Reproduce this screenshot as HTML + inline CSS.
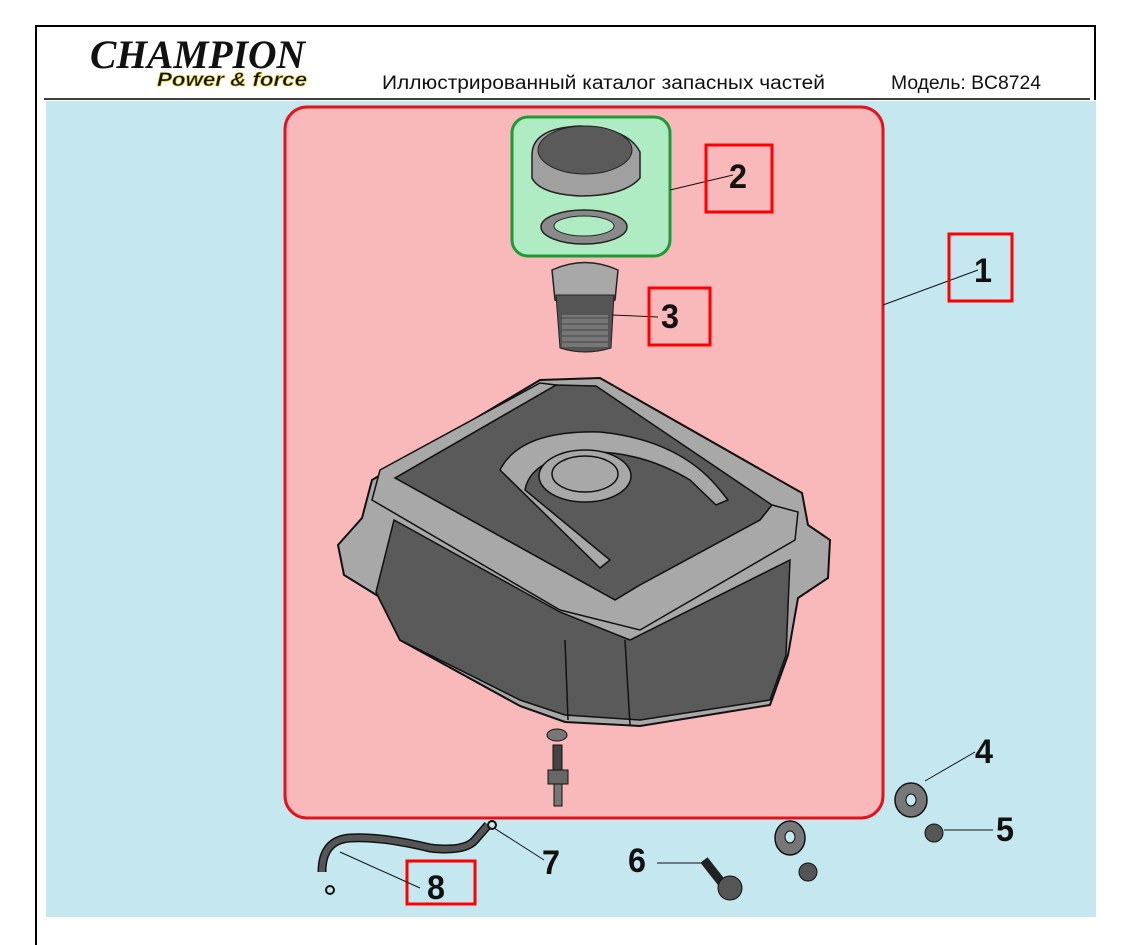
<!DOCTYPE html>
<html><head><meta charset="utf-8"><style>
html,body{margin:0;padding:0;background:#fff;}
svg{display:block;}
</style></head><body>
<svg width="1125" height="945" viewBox="0 0 1125 945" xmlns="http://www.w3.org/2000/svg" font-family="Liberation Sans, sans-serif">
<rect x="0" y="0" width="1125" height="945" fill="#fff"/>
<line x1="36" y1="26" x2="1096" y2="26" stroke="#000" stroke-width="2"/>
<line x1="36" y1="25" x2="36" y2="945" stroke="#000" stroke-width="2"/>
<line x1="1095" y1="25" x2="1095" y2="100" stroke="#000" stroke-width="2"/>
<text x="90" y="68" font-family="Liberation Serif, serif" font-weight="bold" font-style="italic" font-size="40" fill="#111" textLength="215" lengthAdjust="spacingAndGlyphs">CHAMPION</text>
<text x="157" y="86" font-weight="bold" font-style="italic" font-size="19" fill="#111" stroke="#d8c300" stroke-width="0.6" textLength="150" lengthAdjust="spacingAndGlyphs">Power &amp; force</text>
<text x="382" y="89" font-size="19" fill="#111" textLength="443" lengthAdjust="spacingAndGlyphs">Иллюстрированный каталог запасных частей</text>
<text x="891" y="89" font-size="19" fill="#111" textLength="150" lengthAdjust="spacingAndGlyphs">Модель: BC8724</text>
<line x1="44" y1="99" x2="1090" y2="99" stroke="#000" stroke-width="1.5"/>
<rect x="46" y="101" width="1050" height="816" fill="#c5e8f0"/>
<rect x="285" y="107" width="598" height="711" rx="22" fill="#f9b8ba" stroke="#e0141c" stroke-width="3"/>
<rect x="512" y="117" width="158" height="139" rx="16" fill="#b0ecc3" stroke="#1e9a36" stroke-width="3"/>
<path d="M532,155 Q532,128 580,126 Q628,128 640,152 L640,178 Q625,196 580,196 Q540,194 532,178 Z" fill="#a0a0a0" stroke="#222" stroke-width="1.5"/>
<ellipse cx="585" cy="150" rx="47" ry="24" fill="#5a5a5a" stroke="#222"/>
<ellipse cx="584" cy="227" rx="43" ry="17" fill="#8a8a8a" stroke="#222" stroke-width="1.5"/>
<ellipse cx="584" cy="226" rx="30" ry="10" fill="#b0ecc3" stroke="#222"/>
<path d="M552,270 Q585,255 618,270 L615,300 Q585,310 555,300 Z" fill="#a8a8a8" stroke="#222" stroke-width="1.5"/>
<path d="M556,295 L614,295 L611,348 Q585,356 560,348 Z" fill="#555" stroke="#222"/>
<rect x="562" y="315" width="46" height="32" fill="#777"/>
<path d="M562,318 h46 M562,324 h46 M562,330 h46 M562,336 h46 M562,342 h46" stroke="#444" stroke-width="1"/>
<path d="M338,545 L362,518 L372,480 L540,380 L600,378 L802,493 L808,525 L830,540 L828,578 L798,598 L788,655 L770,705 L640,726 L565,722 L520,706 L400,640 L378,596 L344,575 Z" fill="#a8a8a8" stroke="#111" stroke-width="2"/>
<path d="M376,592 L394,520 L560,612 L630,640 L790,560 L786,655 L770,700 L640,720 L565,715 L520,700 L400,640 Z" fill="#5a5a5a" stroke="#111" stroke-width="1.5"/>
<path d="M395,478 L556,385 L596,386 L772,505 L760,520 L640,585 L615,600 Z" fill="#5a5a5a" stroke="#111" stroke-width="1.5"/>
<path d="M372,500 L380,470 L540,383 L556,385 L395,478 L615,600 L640,585 L760,520 L772,505 L798,512 L795,540 L640,630 L560,610 Z" fill="#a8a8a8" stroke="#111" stroke-width="1.5"/>
<path d="M500,470 Q520,430 600,432 Q680,440 720,490 L728,500 L716,505 L690,480 Q640,450 585,452 Q530,460 525,490 L610,560 L600,568 Z" fill="#a8a8a8" stroke="#111" stroke-width="1.5"/>
<ellipse cx="585" cy="476" rx="46" ry="26" fill="#a8a8a8" stroke="#111" stroke-width="1.5"/>
<ellipse cx="585" cy="474" rx="33" ry="18" fill="#a8a8a8" stroke="#111" stroke-width="1.5"/>
<path d="M565,640 L568,720 M625,640 L630,725" stroke="#111" stroke-width="1.5"/>
<ellipse cx="557" cy="735" rx="10" ry="6" fill="#777" stroke="#111"/>
<rect x="553" y="745" width="9" height="30" fill="#444" stroke="#111"/>
<rect x="548" y="770" width="20" height="14" fill="#666" stroke="#111"/>
<rect x="554" y="784" width="8" height="22" fill="#777" stroke="#111"/>
<line x1="670" y1="190" x2="733" y2="175" stroke="#111"/>
<line x1="883" y1="305" x2="978" y2="270" stroke="#111"/>
<line x1="612" y1="315" x2="658" y2="317" stroke="#111"/>
<rect x="706" y="145" width="66" height="67" fill="none" stroke="#f00" stroke-width="3"/>
<rect x="949" y="234" width="63" height="67" fill="none" stroke="#f00" stroke-width="3"/>
<rect x="649" y="288" width="61" height="57" fill="none" stroke="#f00" stroke-width="3"/>
<rect x="407" y="861" width="68" height="43" fill="none" stroke="#f00" stroke-width="3"/>
<g font-weight="bold" font-size="34" fill="#111">
<text x="729" y="188" textLength="18" lengthAdjust="spacingAndGlyphs">2</text>
<text x="974" y="282" textLength="18" lengthAdjust="spacingAndGlyphs">1</text>
<text x="661" y="328" textLength="18" lengthAdjust="spacingAndGlyphs">3</text>
<text x="975" y="763" textLength="18" lengthAdjust="spacingAndGlyphs">4</text>
<text x="996" y="841" textLength="18" lengthAdjust="spacingAndGlyphs">5</text>
<text x="628" y="872" textLength="18" lengthAdjust="spacingAndGlyphs">6</text>
<text x="542" y="874" textLength="18" lengthAdjust="spacingAndGlyphs">7</text>
<text x="427" y="899" textLength="18" lengthAdjust="spacingAndGlyphs">8</text>
</g>
<ellipse cx="911" cy="800" rx="16" ry="17" fill="#777" stroke="#111" stroke-width="1.5"/>
<ellipse cx="911" cy="800" rx="5" ry="6" fill="#c5e8f0" stroke="#111"/>
<line x1="925" y1="781" x2="975" y2="752" stroke="#111"/>
<circle cx="934" cy="833" r="9" fill="#555" stroke="#111"/>
<line x1="944" y1="830" x2="993" y2="830" stroke="#111"/>
<ellipse cx="790" cy="838" rx="15" ry="17" fill="#777" stroke="#111" stroke-width="1.5"/>
<ellipse cx="790" cy="837" rx="5" ry="6" fill="#c5e8f0" stroke="#111"/>
<circle cx="808" cy="872" r="9" fill="#555" stroke="#111"/>
<line x1="657" y1="863" x2="705" y2="863" stroke="#111"/>
<line x1="704" y1="860" x2="722" y2="883" stroke="#222" stroke-width="9"/>
<circle cx="730" cy="888" r="12" fill="#555" stroke="#111"/>
<path d="M322,872 Q322,840 350,838 Q380,836 430,848 Q465,852 475,840 L488,825" fill="none" stroke="#111" stroke-width="9"/>
<path d="M322,872 Q322,840 350,838 Q380,836 430,848 Q465,852 475,840 L488,825" fill="none" stroke="#555" stroke-width="6"/>
<circle cx="492" cy="825" r="4" fill="none" stroke="#111" stroke-width="2"/>
<line x1="494" y1="828" x2="544" y2="860" stroke="#111"/>
<line x1="340" y1="852" x2="420" y2="888" stroke="#111"/>
<circle cx="330" cy="890" r="4" fill="none" stroke="#111" stroke-width="2"/>
</svg>
</body></html>
